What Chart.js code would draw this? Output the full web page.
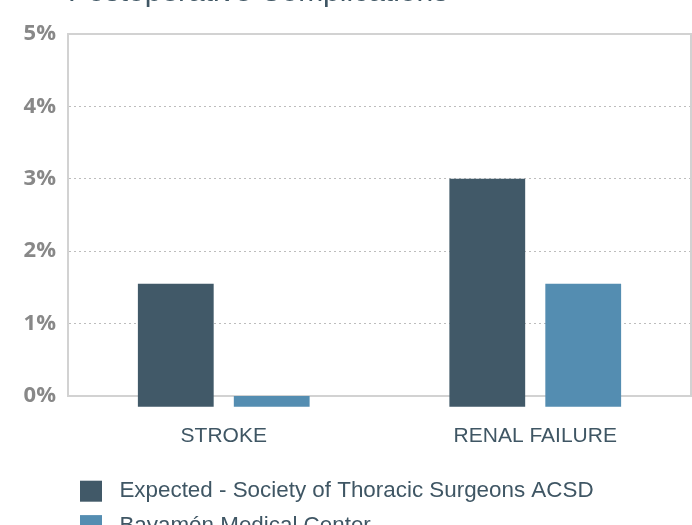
<!DOCTYPE html>
<html>
<head>
<meta charset="utf-8">
<script src="https://cdn.jsdelivr.net/npm/chart.js@4/dist/chart.umd.min.js"></script>
<style>
  html, body { margin: 0; padding: 0; background: #fff; }
  #wrap { width: 692px; height: 525px; }
</style>
</head>
<body>
<div id="wrap"><canvas id="chart"></canvas></div>
<script>
const categories = ['STROKE', 'RENAL FAILURE'];
const seriesNames = ['Expected - Society of Thoracic Surgeons ACSD', 'Bayamón Medical Center'];
const expectedValues = [1.55, 3.0];
const bayamonValues = [0, 1.55];
const yTicks = [0, 1, 2, 3, 4, 5];

const DARK = '#415968';
const BLUE = '#548db1';
const TEXT = '#3f5664';
const LINE = '#d2d2d2';

// hidden axes, only used to draw the top and right frame lines
const frameAxis = (position) => ({
  position,
  display: true,
  ticks: { display: false },
  grid: { display: false, drawTicks: false },
  border: { display: true, color: LINE, width: 2 }
});

new Chart(document.getElementById('chart'), {
  type: 'bar',
  data: {
    labels: categories,
    datasets: [
      { label: seriesNames[0], data: expectedValues, backgroundColor: DARK },
      { label: seriesNames[1], data: bayamonValues, backgroundColor: BLUE }
    ].map(d => Object.assign(d, {
      base: -0.15,
      clip: false,
      borderWidth: 0,
      categoryPercentage: 0.616,
      barPercentage: 0.79
    }))
  },
  options: {
    responsive: true,
    maintainAspectRatio: false,
    animation: false,
    layout: { padding: { right: 1 } },
    scales: {
      x: {
        grid: { display: false, drawTicks: false },
        border: { display: true, color: LINE, width: 2 },
        ticks: {
          color: TEXT,
          padding: 28,
          font: { family: 'Liberation Sans', size: 21 }
        },
        afterFit: (s) => { s.height = 72; }
      },
      xTop: frameAxis('top'),
      y: {
        min: 0,
        max: 5,
        afterBuildTicks: (s) => { s.ticks = yTicks.map(v => ({ value: v })); },
        grid: { color: '#bdbdbd', lineWidth: 1, drawTicks: false },
        border: { display: true, color: LINE, width: 2, dash: [2, 3] },
        ticks: {
          color: '#888888',
          padding: 12,
          font: { family: 'Open Sans', size: 22, weight: 'bold' },
          callback: (v) => v + '%'
        },
        afterFit: (s) => { s.width = 68; }
      },
      yRight: frameAxis('right')
    },
    plugins: {
      title: {
        display: true,
        text: 'Postoperative Complications',
        align: 'start',
        fullSize: false,
        color: TEXT,
        font: { family: 'Liberation Sans', size: 30, weight: 'normal' },
        padding: { top: -25, bottom: 23 }
      },
      legend: {
        position: 'bottom',
        align: 'start',
        fullSize: false,
        maxHeight: 57,
        labels: {
          color: TEXT,
          boxWidth: 22,
          boxHeight: 21,
          padding: 12,
          font: { family: 'Liberation Sans', size: 22.4 },
          generateLabels: (chart) => Chart.defaults.plugins.legend.labels.generateLabels(chart)
            .map(item => Object.assign(item, { text: ' ' + item.text, lineWidth: 0 }))
        }
      },
      tooltip: { enabled: false }
    }
  }
});
</script>
</body>
</html>
